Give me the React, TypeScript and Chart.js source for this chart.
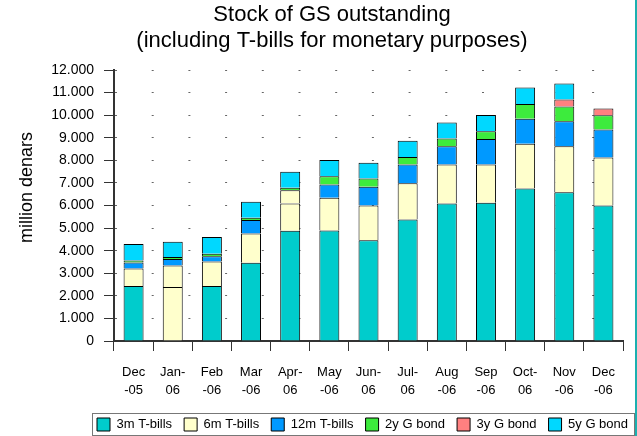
import React, { useEffect, useRef } from 'react';
import { Chart, registerables } from 'chart.js';

Chart.register(...registerables);

// ---------- data ----------
const categories: string[][] = [
  ['Dec', '-05'], ['Jan-', '06'], ['Feb', '-06'], ['Mar', '-06'], ['Apr-', '06'],
  ['May', '-06'], ['Jun-', '06'], ['Jul-', '06'], ['Aug', '-06'], ['Sep', '-06'],
  ['Oct-', '06'], ['Nov', '-06'], ['Dec', '-06'],
];
const bills3m = [2440, 2390, 2430, 3470, 4880, 4890, 4460, 5380, 6090, 6120, 6750, 6590, 6000];
const bills6m = [770, 950, 1090, 1290, 1210, 1450, 1540, 1600, 1730, 1700, 1980, 2030, 2130];
const bills12m = [270, 290, 230, 600, 580, 590, 830, 830, 800, 1120, 1110, 1110, 1240];
const bond2y = [90, 90, 110, 100, 120, 360, 370, 340, 350, 350, 660, 650, 630];
const bond3y = [null, null, null, null, null, null, null, null, null, null, null, 310, 300];
const bond5y = [720, 680, 750, 710, 710, 720, 690, 720, 710, 720, 730, 710, null];
const seriesLabels = ['3m T-bills', '6m T-bills', '12m T-bills', '2y G bond', '3y G bond', '5y G bond'];
const titleLines = ['Stock of GS outstanding', '(including T-bills for monetary purposes)'];
const yAxisTitle = 'million denars';
const yMin = 0;
const yMax = 12000;
const yStep = 1000;

// ---------- styles ----------
const FONT = "'Liberation Sans', Arial, Helvetica, sans-serif";
const C_TEAL = '#00CCCC';
const C_CREAM = '#FFFFCC';
const C_BLUE = '#0099FF';
const C_GREEN = '#3DEB3D';
const C_SALMON = '#FF8080';
const C_CYAN = '#00D8FF';

const fmt = (v: number) => String(v).replace(/\B(?=(\d{3})+(?!\d))/g, '.');

const decorPlugin = {
  id: 'decor',
  afterLayout(chart: any) {
    const lg = chart.legend;
    if (!lg) return;
    lg.left = 85;
    lg.right = 720;
    lg.width = 635;
    lg.top = 406;
    lg.bottom = 436;
    lg.height = 30;
  },
  afterDraw(chart: any) {
    const ctx = chart.ctx as CanvasRenderingContext2D;
    ctx.save();
    // title
    ctx.fillStyle = '#000';
    ctx.textAlign = 'center';
    ctx.textBaseline = 'alphabetic';
    ctx.font = `22px ${FONT}`;
    ctx.fillText(titleLines[0], 332, 21);
    ctx.fillText(titleLines[1], 332, 47);
    // y axis title
    ctx.save();
    ctx.translate(31.5, 187.5);
    ctx.rotate(-Math.PI / 2);
    ctx.font = `18px ${FONT}`;
    ctx.fillText(yAxisTitle, 0, 0);
    ctx.restore();
    // legend frame
    ctx.strokeStyle = '#777';
    ctx.lineWidth = 1;
    ctx.strokeRect(92.5, 413.5, 542, 22);
    // right frame line
    ctx.fillStyle = '#1AB0B0';
    ctx.fillRect(635, 0, 2, 436);
    ctx.restore();
  },
};

export default function App() {
  const ref = useRef<HTMLCanvasElement | null>(null);

  useEffect(() => {
    document.body.style.margin = '0';
    if (!ref.current) return;
    const ds = (label: string, data: any[], bg: any) => ({
      label,
      data,
      backgroundColor: bg,
      borderColor: '#000',
      borderWidth: 1,
      borderSkipped: 'start',
      barPercentage: 0.51,
      categoryPercentage: 1,
    });
    const chart = new Chart(ref.current, {
      type: 'bar',
      data: {
        labels: categories,
        datasets: [
          ds(seriesLabels[0], bills3m, (c: any) => (c.dataIndex === 1 ? C_CREAM : C_TEAL)),
          ds(seriesLabels[1], bills6m, C_CREAM),
          ds(seriesLabels[2], bills12m, (c: any) => (c.dataIndex === 4 ? C_CREAM : C_BLUE)),
          ds(seriesLabels[3], bond2y, C_GREEN),
          ds(seriesLabels[4], bond3y, C_SALMON),
          ds(seriesLabels[5], bond5y, C_CYAN),
        ],
      },
      options: {
        responsive: false,
        animation: false,
        devicePixelRatio: 1,
        layout: { padding: { top: 70, right: 14, left: 0, bottom: 0 } },
        plugins: {
          title: { display: false },
          tooltip: { enabled: false },
          legend: {
            display: true,
            position: 'bottom',
            align: 'start',
            labels: {
              boxWidth: 13,
              boxHeight: 13,
              padding: 12,
              color: '#000',
              font: { family: FONT, size: 13 },
            },
          },
        },
        scales: {
          x: {
            stacked: true,
            offset: true,
            grid: {
              display: true,
              offset: true,
              drawOnChartArea: false,
              drawTicks: true,
              tickLength: 10,
              tickColor: '#333',
              tickWidth: 1,
            },
            border: { display: true, color: '#333', width: 2 },
            ticks: {
              color: '#000',
              padding: 12,
              autoSkip: false,
              maxRotation: 0,
              minRotation: 0,
              font: { family: FONT, size: 13, lineHeight: 1.42 },
            },
            afterFit: (s: any) => {
              s.height = 60;
            },
          },
          y: {
            stacked: true,
            min: yMin,
            max: yMax,
            grid: {
              display: true,
              drawOnChartArea: true,
              drawTicks: true,
              color: '#666',
              lineWidth: 1,
              tickLength: 10,
              tickColor: '#333',
              tickWidth: 1,
            },
            border: { display: true, color: '#333', width: 2, dash: [2, 34.7] },
            ticks: {
              stepSize: yStep,
              color: '#000',
              padding: 10,
              font: { family: FONT, size: 14 },
              callback: (v: any) => fmt(Number(v)),
            },
            afterFit: (s: any) => {
              s.width = 114;
              s.paddingTop = 0;
              s.paddingBottom = 0;
            },
          },
        },
      },
      plugins: [decorPlugin],
    } as any);
    return () => chart.destroy();
  }, []);

  return (
    <div style={{ width: 637, height: 436, position: 'relative' }}>
      <canvas ref={ref} width={637} height={436} style={{ width: 637, height: 436, display: 'block' }} />
    </div>
  );
}
